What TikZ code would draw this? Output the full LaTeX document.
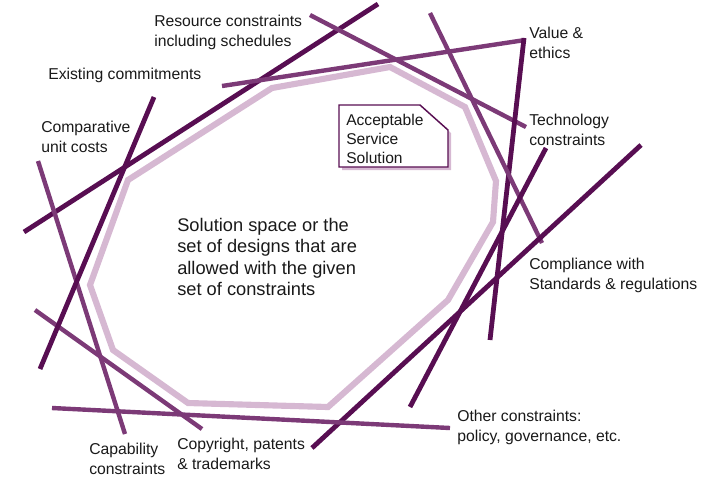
\documentclass[tikz,border=0pt]{standalone}
\usepackage{fontspec}
\setmainfont{Liberation Sans}
\usetikzlibrary{positioning}
\definecolor{plumdark}{RGB}{88,14,82}
\definecolor{plummid}{RGB}{124,58,119}
\definecolor{plumlight}{RGB}{214,184,210}

\begin{document}
\begin{tikzpicture}[
  x=0.75pt, y=-0.75pt,
  limitD/.style={line width=3.6pt, plumdark},
  limitM/.style={line width=3.3pt, plummid},
  region/.style={line width=4.6pt, plumlight, line join=miter},
  constr/.style={anchor=north west, inner sep=0pt, align=left, text=black!90, font=\fontsize{11.8}{15}\selectfont},
  spacetext/.style={anchor=north west, inner sep=0pt, align=left, text=black!90, font=\fontsize{13.7}{16.1}\selectfont},
  notebox/.style={draw=plumdark, line width=1.1pt, fill=white},
  noteshadow/.style={fill=plumlight}
]
\useasboundingbox (0,0) rectangle (717,480);

% ================= SOLUTION SPACE =================
\draw[region] (128,180) -- (272,88) -- (390,67) -- (465,107) -- (496,181)
  -- (493,222) -- (448,300) -- (328,407) -- (188,403) -- (113,350) -- (90,285) -- cycle;

% ================= CONSTRAINT LINES =================
\draw[limitD] (24,232) -- (378,4);
\draw[limitM] (310,15) -- (526,127);
\draw[limitM] (222,86) -- (525,40);
\draw[limitD] (524,38) -- (490,340);
\draw[limitM] (430,13) -- (542,243);
\draw[limitD] (546,148) -- (410,407);
\draw[limitD] (641,145) -- (312,448);
\draw[limitM] (52,408) -- (450,428);
\draw[limitM] (35,310) -- (202,429);
\draw[limitM] (38,161) -- (125,434);
\draw[limitD] (154,97) -- (40,369);

% ================= ACCEPTABLE SOLUTION NOTE =================
\fill[noteshadow] (342,108) -- (423,108) -- (451,133) -- (451,170) -- (342,170) -- cycle;
\draw[notebox] (339,105) -- (420,105) -- (448,130) -- (448,167) -- (339,167) -- cycle;
\node[anchor=north west, inner sep=0pt, align=left, text=black!90, font=\fontsize{11.7}{14.3}\selectfont]
  (note) at (346,114) {Acceptable\\Service\\Solution};

% ================= LABELS =================
\node[spacetext] (space) at (177,218) {Solution space or the\\set of designs that are\\allowed with the given\\set of constraints};

\node[constr] (resource) at (154,15) {Resource constraints\\including schedules};
\node[constr] (existing) at (48,68) {Existing commitments};
\node[constr] (comparative) at (41,121) {Comparative\\unit costs};
\node[constr] (value) at (529,27) {Value \&\\ethics};
\node[constr] (technology) at (529,114) {Technology\\constraints};
\node[constr] (compliance) at (529,258) {Compliance with\\Standards \& regulations};
\node[constr] (other) at (457,410) {Other constraints:\\policy, governance, etc.};
\node[constr] (copyright) at (177,438) {Copyright, patents\\\& trademarks};
\node[constr] (capability) at (89,443) {Capability\\constraints};

\end{tikzpicture}
\end{document}
